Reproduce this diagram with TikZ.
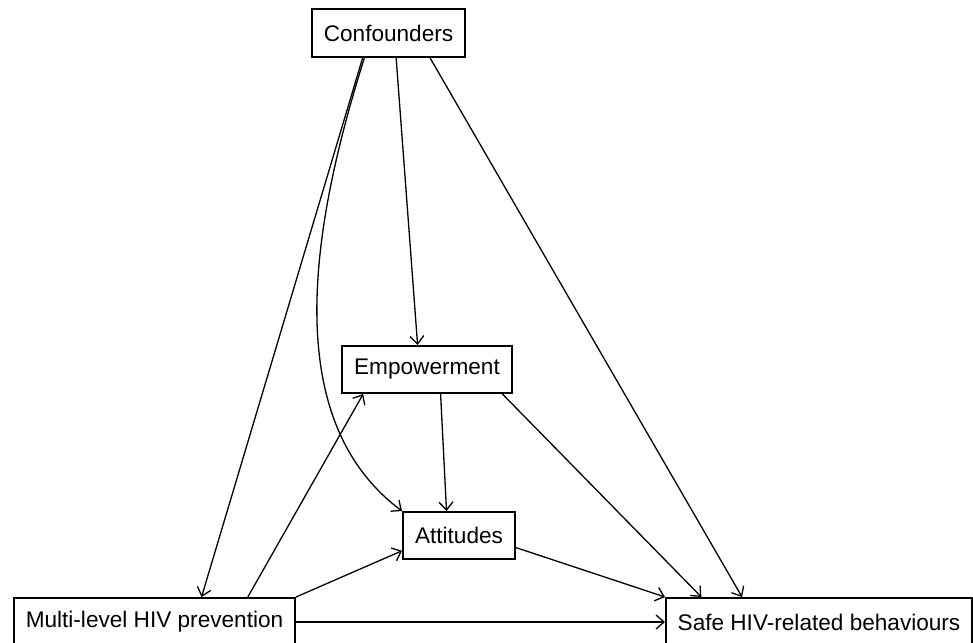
\documentclass[tikz,border=0pt]{standalone}
\usepackage{fontspec}
\setmainfont{Liberation Sans}
\usepackage{tikz}
\usetikzlibrary{arrows.meta}

\begin{document}
\begin{tikzpicture}[x=0.5pt,y=-0.5pt,
    bb/.style={draw, line width=1pt, inner sep=0pt, minimum height=24pt,
               font=\fontsize{11.3}{13.6}\selectfont},
    arr/.style={line width=0.65pt, -{Straight Barb[length=4pt,width=7pt]}}]
    \useasboundingbox (0,0) rectangle (973,642);
    \node[bb,minimum width=76.5pt] (conf) at (388.5,33) {Confounders};
    \node[bb,minimum width=85pt,minimum height=23.5pt] (emp) at (427,369.5) {Empowerment};
    \node[bb,minimum width=56pt,minimum height=23.5pt] (att) at (459,535.5) {Attitudes};
    \node[bb,minimum width=140.5pt] (multi) at (154.5,622) {Multi-level HIV prevention};
    \node[bb,minimum width=153pt] (safe) at (819,622) {Safe HIV-related behaviours};
    % from confounders
    \draw[arr] (conf.-136) -- (multi.28);
    \draw[arr] (conf.-134) .. controls (310,230) and (280,420) .. (att.north west);
    \draw[arr] (conf.-73) -- (emp.111);
    \draw[arr] (conf.-31) -- (safe.162.5);
    % from multi-level prevention
    \draw[arr] (multi.15) -- (emp.-159);
    \draw[arr] (multi.north east) -- (att.-165.5);
    \draw[arr] (multi.east) -- (safe.west);
    % mediators
    \draw[arr] (emp.-61) -- (att.117);
    \draw[arr] (emp.-18.6) -- (safe.168.6);
    \draw[arr] (att.-12.6) -- (safe.north west);
\end{tikzpicture}
\end{document}
